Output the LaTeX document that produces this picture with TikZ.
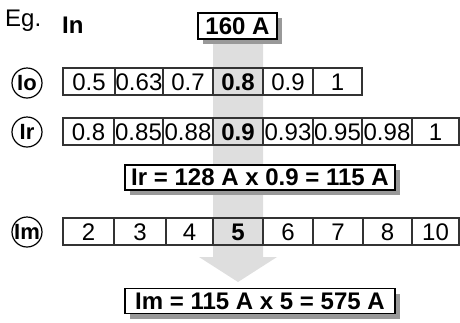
\documentclass[tikz,border=0pt]{standalone}
\usepackage{fontspec}
\setmainfont{Liberation Sans}
\usetikzlibrary{shadows}
\tikzset{
  cellS/.style ={draw=black!80, line width=1.2pt},
  bandS/.style ={fill=black!13},
  val/.style   ={inner sep=0pt, font=\fontsize{24}{24}\selectfont},
  tag/.style   ={circle, draw=black, line width=1.2pt, inner sep=0pt, minimum size=30pt,
                 font=\bfseries\fontsize{22}{22}\selectfont},
  resbox/.style={draw=black, line width=1.4pt, fill=white, inner sep=0pt,
                 minimum height=25pt, font=\bfseries\fontsize{24}{24}\selectfont,
                 drop shadow={shadow xshift=5pt, shadow yshift=-5pt, fill=black!40, opacity=1}},
}
\begin{document}
\begin{tikzpicture}[x=1pt, y=-1pt]
  \useasboundingbox (0,0) rectangle (460,322);
  % grey band and arrow behind everything
  \fill[bandS] (213,38) -- (263,38) -- (263,257) -- (277,257) -- (238,282)
               -- (199,257) -- (213,257) -- cycle;
  \node[val, anchor=base west] (eg) at (5,26) {Eg.};
  \node[val, anchor=base west, font=\bfseries\fontsize{24}{24}\selectfont] (inlbl) at (62,33) {In};
  \node[resbox, minimum width=79pt, minimum height=26pt] (in) at (237.5,26) {160 A};
  % Io row
  \node[tag] (io) at (27,83) {Io};
  \foreach \l/\r/\t [count=\i] in {63/115/0.5, 115/163/0.63, 163/213/0.7,
      213/263/\textbf{0.8}, 263/313/0.9, 313/362/1}{
    \draw[cellS] (\l,68) rectangle (\r,95);
    \node[val] (io\i) at ({(\l+\r)/2},82.5) {\t};
  }
  % Ir row
  \node[tag] (ir) at (27,132) {Ir};
  \foreach \l/\r/\t [count=\i] in {63/114/0.8, 114/163/0.85, 163/213/0.88,
      213/263/\textbf{0.9}, 263/313/0.93, 313/362/0.95, 362/412/0.98, 412/459/1}{
    \draw[cellS] (\l,118) rectangle (\r,145);
    \node[val] (ir\i) at ({(\l+\r)/2},132.5) {\t};
  }
  \node[resbox, minimum width=270pt] (irres) at (260,177.5) {Ir = 128 A x 0.9 = 115 A};
  % Im row
  \node[tag] (im) at (27,232) {Im};
  \foreach \l/\r/\t [count=\i] in {63/114/2, 114/166/3, 166/213/4,
      213/263/\textbf{5}, 263/313/6, 313/363/7, 363/412/8, 412/459/10}{
    \draw[cellS] (\l,218) rectangle (\r,245);
    \node[val] (im\i) at ({(\l+\r)/2},232.5) {\t};
  }
  \node[resbox, minimum width=270pt] (imres) at (260,301) {Im = 115 A x 5 = 575 A};
\end{tikzpicture}
\end{document}
